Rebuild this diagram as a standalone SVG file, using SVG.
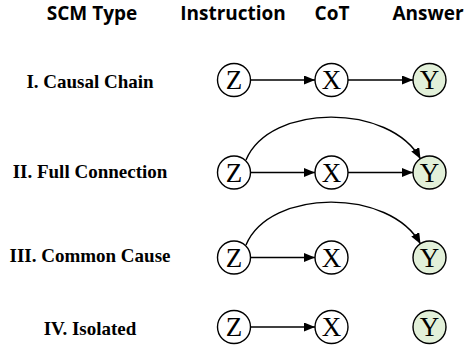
<svg xmlns="http://www.w3.org/2000/svg" width="467" height="354" viewBox="0 0 467 354">
<style>
.hdr{font-family:"Open Sans","Liberation Sans",sans-serif;font-weight:bold;font-size:19px;fill:#000;text-anchor:middle}
.lbl{font-family:"Liberation Serif","Times New Roman",serif;font-weight:bold;font-size:19px;fill:#000;text-anchor:middle}
.n{fill:#fff;stroke:#000;stroke-width:1.4}
.ans{fill:#e2f0d9;stroke:#000;stroke-width:1.4}
.nt{font-family:"Liberation Serif","Times New Roman",serif;font-size:27px;fill:#000;text-anchor:middle}
.e{fill:none;stroke:#000;stroke-width:1.4;marker-end:url(#ah)}
</style>
<defs>
<marker id="ah" viewBox="0 0 11 9" refX="11" refY="4.5" markerWidth="11" markerHeight="9" markerUnits="userSpaceOnUse" orient="auto">
<path d="M0,0 L11,4.5 L0,9 z" fill="#000"/>
</marker>
</defs>
<rect width="467" height="354" fill="#fff"/>
<g id="headers">
<text class="hdr" x="92" y="20">SCM Type</text>
<text class="hdr" x="233" y="20">Instruction</text>
<text class="hdr" x="332" y="20">CoT</text>
<text class="hdr" x="428" y="20">Answer</text>
</g>
<g id="labels">
<text class="lbl" x="90" y="88">I. Causal Chain</text>
<text class="lbl" x="90" y="178">II. Full Connection</text>
<text class="lbl" x="90" y="262">III. Common Cause</text>
<text class="lbl" x="90" y="335">IV. Isolated</text>
</g>
<g id="connectors">
<path class="e" d="M250.5 80 L315 80"/>
<path class="e" d="M348 80 L413 80"/>
<path class="e" d="M250.5 172.5 L315 172.5"/>
<path class="e" d="M348 172.5 L413 172.5"/>
<path class="e" d="M246 160 C270 103 390 103 420.5 159"/>
<path class="e" d="M250.5 257.5 L315 257.5"/>
<path class="e" d="M246 245 C270 188 390 188 420.5 244"/>
<path class="e" d="M250.5 327 L315 327"/>
</g>
<g id="r1z"><circle class="n" cx="234" cy="80" r="16.5"/><text class="nt" x="234" y="89">Z</text></g>
<g id="r1x"><circle class="n" cx="331.5" cy="80" r="16.5"/><text class="nt" x="331.5" y="89">X</text></g>
<g id="r1y"><circle class="ans" cx="429.5" cy="80" r="16.5"/><text class="nt" x="429.5" y="89">Y</text></g>
<g id="r2z"><circle class="n" cx="234" cy="172.5" r="16.5"/><text class="nt" x="234" y="181.5">Z</text></g>
<g id="r2x"><circle class="n" cx="331.5" cy="172.5" r="16.5"/><text class="nt" x="331.5" y="181.5">X</text></g>
<g id="r2y"><circle class="ans" cx="429.5" cy="172.5" r="16.5"/><text class="nt" x="429.5" y="181.5">Y</text></g>
<g id="r3z"><circle class="n" cx="234" cy="257.5" r="16.5"/><text class="nt" x="234" y="266.5">Z</text></g>
<g id="r3x"><circle class="n" cx="331.5" cy="257.5" r="16.5"/><text class="nt" x="331.5" y="266.5">X</text></g>
<g id="r3y"><circle class="ans" cx="429.5" cy="257.5" r="16.5"/><text class="nt" x="429.5" y="266.5">Y</text></g>
<g id="r4z"><circle class="n" cx="234" cy="327" r="16.5"/><text class="nt" x="234" y="336">Z</text></g>
<g id="r4x"><circle class="n" cx="331.5" cy="327" r="16.5"/><text class="nt" x="331.5" y="336">X</text></g>
<g id="r4y"><circle class="ans" cx="429.5" cy="327" r="16.5"/><text class="nt" x="429.5" y="336">Y</text></g>
</svg>
